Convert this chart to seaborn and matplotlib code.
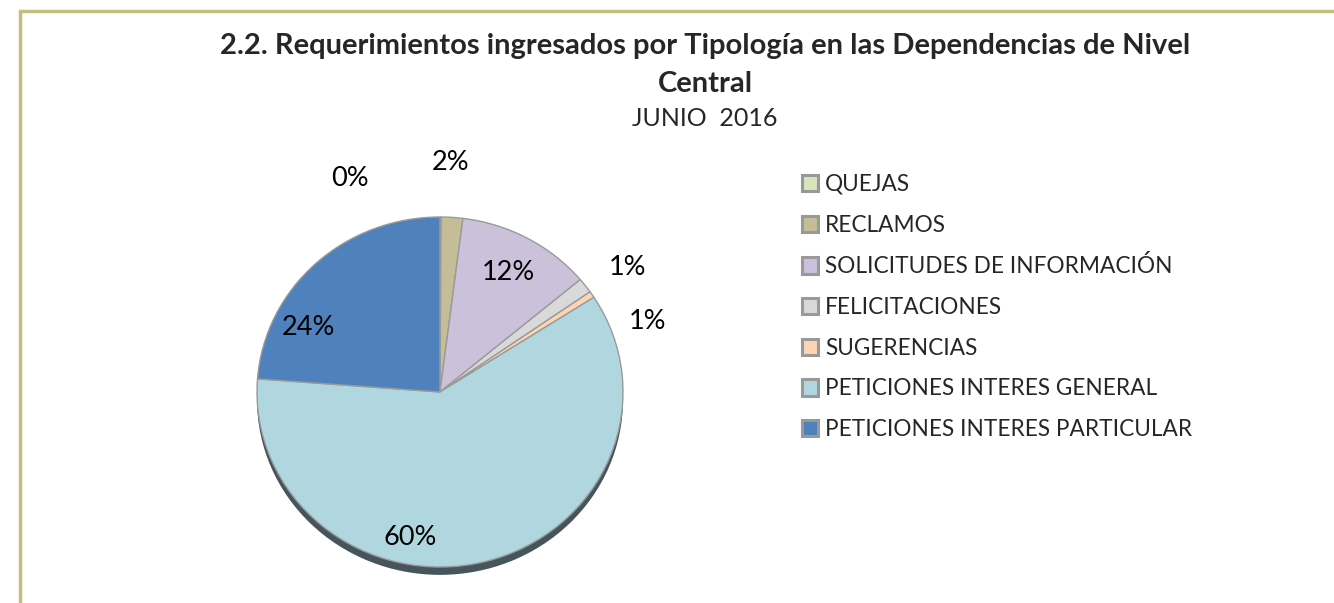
import matplotlib
matplotlib.use("Agg")
import matplotlib.pyplot as plt
import seaborn as sns
import numpy as np
from matplotlib.patches import Patch, Ellipse
from matplotlib.lines import Line2D

# Datos (porcentajes)
categorias = ["QUEJAS", "RECLAMOS", "SOLICITUDES DE INFORMACIÓN", "FELICITACIONES",
              "SUGERENCIAS", "PETICIONES INTERES GENERAL", "PETICIONES INTERES PARTICULAR"]
valores = [0.1, 1.9, 11.9, 1.4, 0.6, 60.3, 23.8]
colores = ["#d7e4bd", "#c4bd97", "#ccc1da", "#d9d9d9", "#fcd5b5", "#b0d7e0", "#4f81bd"]

titulo_1 = "2.2. Requerimientos ingresados por Tipología en las Dependencias de Nivel"
titulo_2 = "Central"
subtitulo = "JUNIO  2016"

# ubicacion de las etiquetas (radio, desplazamiento angular en grados)
radio_etq = [1.315, 1.31, 0.78, 1.25, 1.205, 0.85, 0.81]
despl_etq = [22.2, 1.3, 0.0, -2.6, -14.4, -25.3, 20.0]

sns.set_theme(style="white")
plt.rcParams['font.family'] = ['Lato', 'DejaVu Sans']

fig = plt.figure(figsize=(13.34, 6.03), dpi=100)
fig.patch.set_facecolor("white")

W, H = 1334, 603
cx, cy = 440, 603 - 392
rx, ry = 183, 175
xl = (-1.5, 1.5)
yl = (-1.2, 1.45)
ax = fig.add_axes([(cx + xl[0] * rx) / W, (cy + yl[0] * ry) / H,
                   (xl[1] - xl[0]) * rx / W, (yl[1] - yl[0]) * ry / H])

# sombra inferior
ax.add_patch(Ellipse((0, -0.045), 2.0, 2.0, facecolor="#46555c", edgecolor="none", zorder=0))

wedges, _ = ax.pie(valores, colors=colores, startangle=90, counterclock=False,
                   wedgeprops=dict(edgecolor="#9a9a9a", linewidth=1.0))
for w in wedges:
    w.set_zorder(2)

ax.set_aspect("auto")
ax.set_xlim(*xl)
ax.set_ylim(*yl)
ax.axis("off")

for w, v, r, d in zip(wedges, valores, radio_etq, despl_etq):
    ang = np.deg2rad((w.theta1 + w.theta2) / 2 + d)
    ax.text(r * np.cos(ang), r * np.sin(ang), f"{v:.0f}%", ha="center", va="center",
            fontsize=19.5, color="black", zorder=5, clip_on=False)

fig.text(705 / W, 1 - 46 / H, titulo_1, ha="center", va="center", fontsize=21,
         fontweight="bold")
fig.text(705 / W, 1 - 84 / H, titulo_2, ha="center", va="center", fontsize=21,
         fontweight="bold")
fig.text(705 / W, 1 - 118 / H, subtitulo, ha="center", va="center", fontsize=18)

handles = [Patch(facecolor=c, edgecolor="#999999", linewidth=2.2) for c in colores]
fig.legend(handles, categorias, loc="upper left", bbox_to_anchor=(802 / W, 1 - 174 / H),
           frameon=False, fontsize=16.3, handlelength=0.72, handleheight=0.72,
           handletextpad=0.3, labelspacing=0.87, borderaxespad=0, borderpad=0)

# marco
borde = "#c3bd80"
fig.add_artist(Line2D([20 / W, 1], [1 - 11 / H, 1 - 11 / H], transform=fig.transFigure,
                      color=borde, linewidth=2.5))
fig.add_artist(Line2D([20 / W, 20 / W], [1 - 11 / H, 0], transform=fig.transFigure,
                      color=borde, linewidth=2.5))

fig.savefig("out.png", dpi=100, facecolor="white")
